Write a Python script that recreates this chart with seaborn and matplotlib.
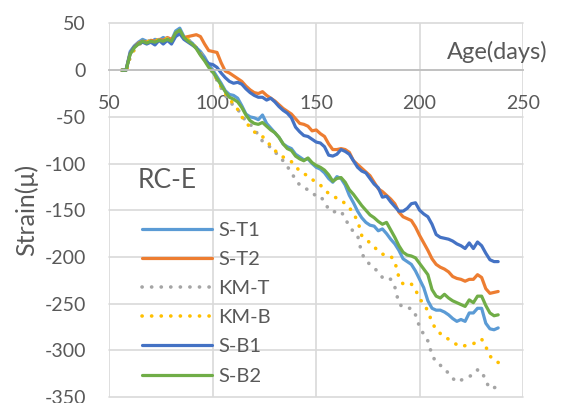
import matplotlib
matplotlib.use("Agg")
import matplotlib.pyplot as plt
import seaborn as sns
import pandas as pd

# Age of the specimen in days
days = [56, 58, 60, 62, 64, 66, 68, 70, 72, 74, 76, 78, 80, 82, 84, 86, 88, 90,
        92, 94, 96, 98, 100, 102, 104, 106, 108, 110, 112, 114, 116, 118, 120,
        122, 124, 126, 128, 130, 132, 134, 136, 138, 140, 142, 144, 146, 148,
        150, 152, 154, 156, 158, 160, 162, 164, 166, 168, 170, 172, 174, 176,
        178, 180, 182, 184, 186, 188, 190, 192, 194, 196, 198, 200, 202, 204,
        206, 208, 210, 212, 214, 216, 218, 220, 222, 224, 226, 228, 230, 232,
        234, 236, 238]

s_t1 = [0, 0, 20, 26, 30, 33, 31, 30, 33, 32, 35, 33, 32, 42, 45, 36, 32, 29,
        24, 20, 14, 6, 0, -7, -14, -22, -26, -27, -30, -38, -47, -50, -51,
        -53, -48, -57, -62, -67, -72, -79, -82, -84, -90, -93, -96, -95, -100,
        -104, -106, -110, -116, -120, -114, -116, -123, -134, -142, -151, -158,
        -163, -166, -167, -172, -170, -175, -181, -186, -193, -202, -205, -208,
        -215, -224, -233, -247, -255, -257, -257, -259, -262, -266, -269, -267,
        -269, -260, -260, -255, -255, -271, -277, -278, -276]

s_t2 = [0, 0, 18, 25, 29, 31, 30, 32, 31, 33, 32, 35, 33, 38, 40, 35, 36, 37,
        38, 36, 28, 21, 20, 19, 8, -1, -3, -6, -9, -12, -17, -21, -24, -25,
        -23, -27, -30, -33, -37, -41, -44, -47, -52, -57, -58, -60, -65, -64,
        -68, -71, -79, -85, -85, -84, -85, -88, -97, -101, -105, -109, -113,
        -120, -127, -130, -134, -138, -143, -152, -157, -159, -161, -168, -177,
        -185, -193, -202, -208, -211, -213, -216, -221, -223, -224, -226, -224,
        -224, -219, -222, -234, -239, -238, -237]

km_t = [0, -3, 14, 22, 27, 30, 30, 32, 31, 33, 32, 34, 32, 37, 40, 36, 33, 29,
        24, 18, 12, 4, -3, -11, -19, -27, -33, -38, -42, -48, -55, -58, -62,
        -70, -76, -79, -83, -87, -93, -97, -103, -110, -117, -123, -126, -128,
        -131, -135, -135, -141, -149, -152, -151, -151, -159, -167, -173, -177,
        -196, -204, -208, -212, -216, -222, -221, -224, -232, -250, -254, -255,
        -255, -262, -275, -283, -290, -305, -313, -316, -319, -325, -330, -334,
        -332, -330, -328, -326, -321, -322, -333, -341, -340, -339]

km_b = [0, -3, 15, 22, 27, 31, 30, 32, 31, 33, 32, 34, 32, 38, 41, 37, 33, 29,
        24, 18, 12, 4, -3, -10, -18, -25, -31, -36, -42, -50, -56, -61, -66,
        -69, -71, -76, -81, -86, -90, -93, -95, -98, -103, -108, -111, -113,
        -117, -120, -123, -128, -132, -135, -137, -139, -143, -147, -154, -161,
        -177, -181, -185, -189, -194, -197, -198, -199, -205, -222, -229, -230,
        -229, -235, -245, -250, -258, -270, -278, -282, -286, -288, -291, -294,
        -296, -295, -294, -293, -290, -288, -296, -306, -311, -313]

s_b1 = [0, 0, 18, 25, 28, 30, 28, 30, 27, 32, 28, 32, 28, 36, 39, 33, 30, 27,
        24, 17, 11, 7, 6, 3, -3, -8, -12, -14, -13, -15, -20, -24, -27, -29,
        -29, -32, -30, -34, -39, -43, -46, -51, -61, -66, -70, -71, -74, -77,
        -78, -82, -91, -92, -90, -85, -87, -90, -97, -104, -108, -110, -116,
        -122, -126, -136, -135, -141, -146, -151, -151, -148, -143, -142, -150,
        -154, -157, -165, -176, -179, -180, -181, -183, -186, -188, -191, -185,
        -191, -184, -188, -196, -203, -205, -205]

s_b2 = [0, 0, 17, 24, 28, 31, 29, 31, 30, 32, 31, 33, 31, 40, 43, 35, 31, 28,
        23, 16, 10, 3, -2, -9, -16, -23, -29, -31, -34, -40, -48, -54, -57,
        -58, -56, -60, -64, -67, -72, -79, -84, -86, -92, -95, -97, -94, -99,
        -102, -104, -107, -112, -119, -116, -115, -120, -128, -133, -139, -145,
        -150, -155, -158, -162, -165, -163, -171, -179, -188, -195, -198, -199,
        -201, -207, -213, -219, -235, -242, -244, -240, -244, -247, -249, -251,
        -253, -246, -249, -242, -242, -252, -260, -263, -262]

gauges = ["S-T1", "S-T2", "KM-T", "KM-B", "S-B1", "S-B2"]
colors = ["#5B9BD5", "#ED7D31", "#A5A5A5", "#FFC000", "#4472C4", "#70AD47"]
dotted = [False, False, True, True, False, False]

x_ticks = [50, 100, 150, 200, 250]
y_ticks = [-350, -300, -250, -200, -150, -100, -50, 0, 50]

frame = pd.DataFrame({"Age": days, "S-T1": s_t1, "S-T2": s_t2, "KM-T": km_t,
                      "KM-B": km_b, "S-B1": s_b1, "S-B2": s_b2})

sns.set_theme(style="white")
plt.rcParams["font.family"] = ["Lato", "DejaVu Sans"]
text_color = "#595959"
grid_color = "#D9D9D9"

fig = plt.figure(figsize=(5.62, 4.03), dpi=100)
ax = fig.add_axes([0.1948, 0.0149, 0.7358, 0.9268])

for name, color, is_dotted in zip(gauges, colors, dotted):
    if is_dotted:
        style = dict(linestyle=(0, (0.05, 2.6)), dash_capstyle="round", lw=2.6)
    else:
        style = dict(linestyle="-", lw=2.3)
    sns.lineplot(data=frame, x="Age", y=name, ax=ax, color=color,
                 label=name, sort=False, **style)

ax.set_xlim(50, 250)
ax.set_ylim(-350, 50)
ax.set_xticks(x_ticks)
ax.set_yticks(y_ticks)
ax.set_xticklabels([str(v) for v in x_ticks])
ax.set_yticklabels([str(v) for v in y_ticks])
ax.grid(True, color=grid_color, lw=1.2)
ax.set_axisbelow(True)
for gl in ax.get_xgridlines() + ax.get_ygridlines():
    gl.set_clip_on(False)

for side in ["top", "right", "left"]:
    ax.spines[side].set_visible(False)
ax.spines["bottom"].set_position(("data", 0))
ax.spines["bottom"].set_color("#BFBFBF")
ax.spines["bottom"].set_linewidth(1.3)

ax.tick_params(axis="both", length=0, labelsize=14, labelcolor=text_color)
ax.tick_params(axis="x", pad=18)
ax.tick_params(axis="y", pad=17)

ax.set_xlabel("")
ax.set_ylabel("Strain(μ)", fontsize=18, color=text_color, va="center")
ax.yaxis.set_label_coords(-0.20, 0.5)

ax.text(213, 19, "Age(days)", fontsize=17, color=text_color,
        ha="left", va="center", clip_on=False)
ax.text(78, -118.5, "RC-E", fontsize=19, color=text_color,
        ha="center", va="center")

leg = ax.legend(loc="upper left", bbox_to_anchor=(0.058, 0.491), frameon=False,
                fontsize=14.5, handlelength=3.5, handletextpad=0.3,
                labelspacing=0.6, borderaxespad=0)
for t in leg.get_texts():
    t.set_color(text_color)

fig.savefig("out.png", dpi=100)
